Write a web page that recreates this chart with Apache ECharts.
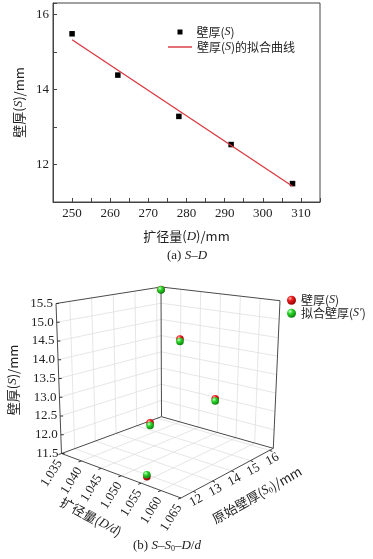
<!DOCTYPE html>
<html>
<head>
<meta charset="utf-8">
<script src="https://cdn.jsdelivr.net/npm/echarts@6/dist/echarts.min.js"></script>
<style>html,body{margin:0;padding:0;background:#fff}#main{width:373px;height:559px}</style>
</head>
<body>
<div id="main"></div>
<script>
// (a) S-D
var expandD = [250, 262, 278, 291.7, 307.8];
var wallS = [15.48, 14.38, 13.28, 12.53, 11.49];
var fitD = [250, 307.8];
var fitS = [15.32, 11.42];

// (b) S-S0-D/d
var ratioDd = [1.035, 1.0474, 1.0614, 1.0499, 1.0539];
var origS0 = [16.2, 14.78, 13.81, 12.84, 11.87];
var measS = [15.42, 14.38, 13.28, 12.53, 11.50];
var fittedS = [15.41, 14.31, 13.22, 12.46, 11.55];

var ddTicks = [1.035, 1.040, 1.045, 1.050, 1.055, 1.060, 1.065];
var s0Ticks = [12, 13, 14, 15, 16];
var sTicks = [11.5, 12.0, 12.5, 13.0, 13.5, 14.0, 14.5, 15.0, 15.5];
var ddRange = [1.035, 1.065], s0Range = [11.36, 16.2], sRange = [11.5, 15.5];

var serif = 'Liberation Serif';
var cjk = 'Noto Sans CJK SC';
var ink = '#222';

// screen corners of the 3d box (u = D/d, v = S0, w = S)
var box = {
  c000: [61.5, 453.5], c001: [56, 303.5],
  c010: [161.5, 416.7], c011: [161, 287],
  c100: [181, 498], c101: [182, 328],
  c110: [273.3, 448.3], c111: [280, 300.7]
};
function P(u, v, w) {
  function f(k) {
    return (1-u)*(1-v)*(1-w)*box.c000[k] + (1-u)*(1-v)*w*box.c001[k] +
      (1-u)*v*(1-w)*box.c010[k] + (1-u)*v*w*box.c011[k] +
      u*(1-v)*(1-w)*box.c100[k] + u*(1-v)*w*box.c101[k] +
      u*v*(1-w)*box.c110[k] + u*v*w*box.c111[k];
  }
  return [f(0), f(1)];
}
function nu(d) { return (d - ddRange[0]) / (ddRange[1] - ddRange[0]); }
function nv(d) { return (d - s0Range[0]) / (s0Range[1] - s0Range[0]); }
function nw(d) { return (d - sRange[0]) / (sRange[1] - sRange[0]); }
function project(dd, s0, s) { return P(nu(dd), nv(s0), nw(s)); }

var rich = {
  i: {fontStyle: 'italic', fontFamily: serif, fontSize: 13, color: ink},
  sub: {fontSize: 8, fontFamily: serif, verticalAlign: 'bottom', padding: [6, 0, 0, 0], color: ink}
};
var richL = {
  i: {fontStyle: 'italic', fontFamily: serif, fontSize: 12, color: ink}
};

var g = [];
function line(a, b, color, width) {
  g.push({type: 'line', silent: true, z: 1,
    shape: {x1: a[0], y1: a[1], x2: b[0], y2: b[1]},
    style: {stroke: color, lineWidth: width}});
}
function text(x, y, str, opt) {
  g.push({type: 'text', silent: true, z: 2, x: x, y: y, rotation: opt.rot || 0,
    style: {text: str, align: opt.align || 'center', verticalAlign: 'middle',
      fontSize: opt.size || 13, fontFamily: opt.family || serif, fill: ink, rich: rich}});
}

var gridC = '#e0e0e0', edgeC = '#4a4a4a';
// wall and floor grid
sTicks.slice(1, -1).forEach(function (s) {
  var w = nw(s);
  line(P(0, 0, w), P(0, 1, w), gridC, 0.8);
  line(P(0, 1, w), P(1, 1, w), gridC, 0.8);
});
s0Ticks.forEach(function (s) {
  var v = nv(s);
  line(P(0, v, 0), P(0, v, 1), gridC, 0.8);
  line(P(0, v, 0), P(1, v, 0), gridC, 0.8);
});
ddTicks.slice(1, -1).forEach(function (d) {
  var u = nu(d);
  line(P(u, 1, 0), P(u, 1, 1), gridC, 0.8);
  line(P(u, 0, 0), P(u, 1, 0), gridC, 0.8);
});
// box edges
[[[0,0,0],[0,0,1]], [[0,1,0],[0,1,1]], [[1,1,0],[1,1,1]],
 [[0,0,1],[0,1,1]], [[0,1,1],[1,1,1]],
 [[0,0,0],[0,1,0]], [[0,1,0],[1,1,0]],
 [[0,0,0],[1,0,0]], [[1,0,0],[1,1,0]]].forEach(function (e) {
  line(P.apply(null, e[0]), P.apply(null, e[1]), edgeC, 1);
});
// S axis
sTicks.forEach(function (s) {
  var p = P(0, 0, nw(s));
  line(p, [p[0] + 3, p[1]], '#333', 1);
  text(p[0] - 3, p[1], s.toFixed(1), {align: 'right'});
});
// D/d axis
ddTicks.forEach(function (d) {
  var p = P(nu(d), 0, 0);
  line(p, [p[0] - 3, p[1] + 1.1], '#333', 1);
  text(p[0] - 2, p[1] + 7.5, d.toFixed(3), {align: 'right', rot: 1.01});
});
// S0 axis
s0Ticks.forEach(function (s) {
  var p = P(1, nv(s), 0);
  line(p, [p[0] + 2.8, p[1] + 1.05], '#333', 1);
  text(p[0] + 3, p[1] + 9, String(s), {rot: 0.49});
});
text(13, 380, '壁厚({i|S})/mm', {rot: Math.PI / 2, family: cjk});
text(91, 517, '扩径量({i|D/d})', {rot: -0.5, family: cjk});
text(257, 495, '原始壁厚({i|S}{sub|0})/mm', {rot: 0.52, family: cjk});

var ballRed = new echarts.graphic.RadialGradient(0.35, 0.3, 0.75, [
  {offset: 0, color: '#ffb8b8'}, {offset: 0.35, color: '#ee1c1c'}, {offset: 1, color: '#8a0000'}]);
var ballGreen = new echarts.graphic.RadialGradient(0.35, 0.3, 0.75, [
  {offset: 0, color: '#d0ffd0'}, {offset: 0.35, color: '#2cd82c'}, {offset: 1, color: '#0a7a0a'}]);

function ballSeries(name, vals, fill, z) {
  return {
    name: name, type: 'custom', coordinateSystem: 'none', z: z,
    itemStyle: {color: fill},
    data: ratioDd.map(function (d, i) { return [d, origS0[i], vals[i]]; }),
    renderItem: function (params, api) {
      var p = project(api.value(0), api.value(1), api.value(2));
      return {type: 'circle', shape: {cx: p[0], cy: p[1], r: 3.8}, style: {fill: fill}};
    }
  };
}

var legendNames = {
  measA: '壁厚({i|S})', fitA: '壁厚({i|S})的拟合曲线',
  measB: '壁厚({i|S})', fitB: '拟合壁厚({i|S′})'
};
function legendText(name) { return legendNames[name]; }
var legendStyle = {fontSize: 12, fontFamily: cjk, color: ink, rich: richL};

var chart = echarts.init(document.getElementById('main'));
chart.setOption({
  animation: false,
  title: [
    {text: '(a) {i|S–D}', left: 167, top: 249, padding: 0,
      textStyle: {fontSize: 13, fontWeight: 'normal', fontFamily: serif, color: ink, rich: rich}},
    {text: '(b) {i|S}–{i|S}{sub|0}–{i|D}/{i|d}', left: 133, top: 539, padding: 0,
      textStyle: {fontSize: 13, fontWeight: 'normal', fontFamily: serif, color: ink, rich: rich}}
  ],
  legend: [
    {data: ['measA'], left: 177.5, top: 26, padding: 0, itemWidth: 5, itemHeight: 5, icon: 'rect',
      selectedMode: false, formatter: legendText,
      textStyle: Object.assign({padding: [0, 0, 0, 9]}, legendStyle)},
    {data: ['fitA'], left: 168, top: 41, padding: 0, itemWidth: 24, itemHeight: 1.4, icon: 'rect',
      selectedMode: false, formatter: legendText, textStyle: legendStyle},
    {data: ['measB', 'fitB'], left: 287, top: 294, padding: 0, orient: 'vertical', icon: 'circle',
      itemWidth: 9, itemHeight: 9, itemGap: 0.5, selectedMode: false, formatter: legendText,
      textStyle: Object.assign({lineHeight: 12.5}, legendStyle)}
  ],
  grid: {left: 53, right: 53, top: 3, bottom: 357, show: true, borderColor: '#444', borderWidth: 1},
  xAxis: {
    type: 'value', min: 245, max: 315, interval: 5,
    name: '扩径量({i|D})/mm', nameLocation: 'middle', nameGap: 28,
    nameTextStyle: {fontSize: 13, fontFamily: cjk, color: ink, rich: rich},
    axisLine: {lineStyle: {color: '#444'}},
    axisTick: {inside: true, length: 4, lineStyle: {color: '#444'}},
    axisLabel: {fontSize: 13, fontFamily: serif, color: ink, margin: 5,
      formatter: function (v) { return v % 10 === 0 ? String(v) : ''; }},
    splitLine: {show: false}
  },
  yAxis: {
    type: 'value', min: 11, max: 16.3, interval: 1,
    name: '壁厚({i|S})/mm', nameLocation: 'middle', nameGap: 22, nameRotate: 90,
    nameTextStyle: {fontSize: 13, fontFamily: cjk, color: ink, rich: rich},
    axisLine: {lineStyle: {color: '#444'}},
    axisTick: {inside: true, length: 4, lineStyle: {color: '#444'}},
    axisLabel: {fontSize: 13, fontFamily: serif, color: ink, margin: 4,
      formatter: function (v) { return (v % 2 === 0) ? String(v) : ''; }},
    splitLine: {show: false}
  },
  graphic: {elements: g},
  series: [
    {name: 'measA', type: 'scatter', symbol: 'rect', symbolSize: 5.5,
      itemStyle: {color: '#000', opacity: 1},
      data: expandD.map(function (d, i) { return [d, wallS[i]]; })},
    {name: 'fitA', type: 'line', symbol: 'none', showSymbol: false,
      lineStyle: {color: '#d8343c', width: 1.2}, itemStyle: {color: '#d8343c'},
      data: fitD.map(function (d, i) { return [d, fitS[i]]; })},
    ballSeries('measB', measS, ballRed, 5),
    ballSeries('fitB', fittedS, ballGreen, 6)
  ]
});
</script>
</body>
</html>
